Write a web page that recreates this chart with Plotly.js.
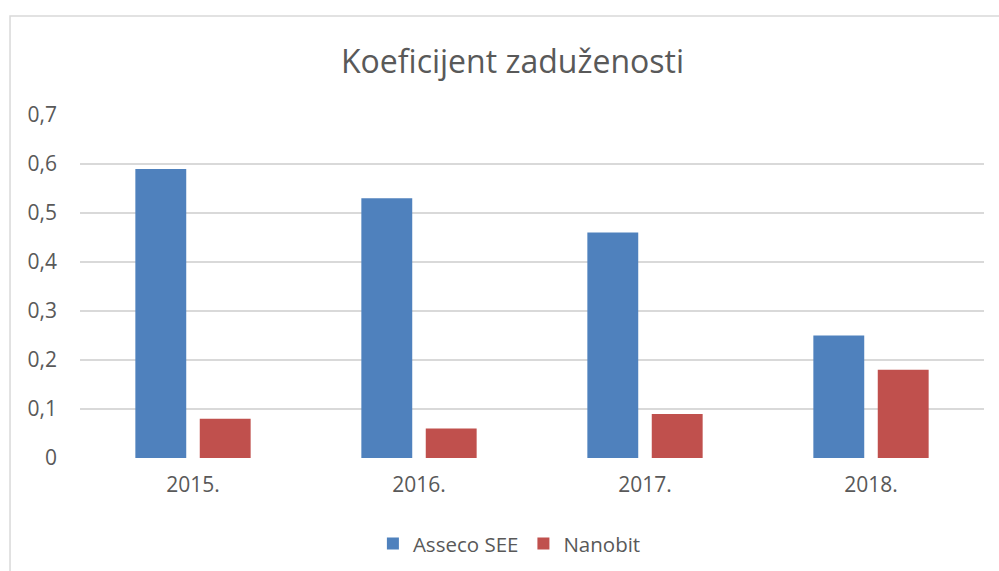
<!DOCTYPE html>
<html>
<head>
<meta charset="utf-8">
<script src="https://cdn.plot.ly/plotly-3.0.1.min.js"></script>
<style>html,body{margin:0;padding:0;background:#fff;}#chart{width:999px;height:571px;}</style>
</head>
<body>
<div id="chart"></div>
<script>
const categories = ["2015.", "2016.", "2017.", "2018."];
const asseco = [0.59, 0.53, 0.46, 0.25];
const nanobit = [0.08, 0.06, 0.09, 0.18];
const seriesNames = ["Asseco SEE", "Nanobit"];
const yTicks = [0, 0.1, 0.2, 0.3, 0.4, 0.5, 0.6, 0.7];

const font = "Open Sans, Liberation Sans, sans-serif";
const traces = [
  {type: "bar", name: seriesNames[0], x: categories, y: asseco, marker: {color: "#4F81BD"}, hoverinfo: "none"},
  {type: "bar", name: seriesNames[1], x: categories, y: nanobit, marker: {color: "#C0504D"}, hoverinfo: "none"}
];
const layout = {
  width: 999, height: 571,
  margin: {l: 80, r: 15, t: 115, b: 113, autoexpand: false},
  paper_bgcolor: "#fff", plot_bgcolor: "#fff",
  separators: ", ",
  barmode: "group", bargap: 0.43, bargroupgap: 0.21,
  title: {text: "Koeficijent zaduženosti", font: {family: font, size: 32, color: "#595959"}, x: 0.513, xanchor: "center", y: 0.892, yanchor: "middle"},
  xaxis: {type: "category", automargin: false, showgrid: false, zeroline: false, showline: false, ticks: "", tickfont: {family: font, size: 21, color: "#595959"}, ticklabelstandoff: 12},
  yaxis: {range: [0, 0.7], automargin: false, tickvals: yTicks, showgrid: true, gridcolor: "#d9d9d9", gridwidth: 1.3, zeroline: false, showline: false, ticks: "", tickfont: {family: font, size: 21, color: "#595959"}, ticklabelstandoff: 22},
  legend: {orientation: "h", x: 0.475, xanchor: "center", y: -0.25, yanchor: "middle", font: {family: font, size: 20.5, color: "#595959"}, itemwidth: 30, traceorder: "normal"},
  shapes: [{type: "rect", xref: "paper", yref: "paper", x0: -0.0774, x1: 1.05, y0: -0.4, y1: 1.2886, line: {color: "#d9d9d9", width: 1.5}, fillcolor: "rgba(0,0,0,0)", layer: "below"}],
  showlegend: true
};
Plotly.newPlot("chart", traces, layout, {staticPlot: true, displayModeBar: false});
</script>
</body>
</html>
